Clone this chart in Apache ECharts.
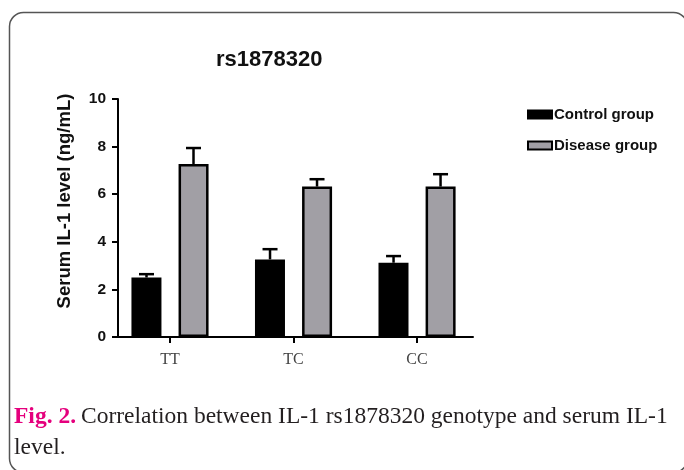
<!DOCTYPE html>
<html>
<head>
<meta charset="utf-8">
<script src="https://cdn.jsdelivr.net/npm/echarts@6/dist/echarts.min.js"></script>
<style>html,body{margin:0;padding:0;background:#fff;}#c{width:684px;height:470px;}</style>
</head>
<body>
<div id="c"></div>
<script>
var categories = ['TT', 'TC', 'CC'];
var controlMean = [2.50, 3.26, 3.12];
var controlErr = [0.14, 0.43, 0.28];
var diseaseMean = [7.27, 6.32, 6.32];
var diseaseErr = [0.67, 0.31, 0.52];
var yTicks = [0, 2, 4, 6, 8, 10];
var seriesNames = ['Control group', 'Disease group'];
var chartTitle = 'rs1878320';
var yAxisTitle = 'Serum IL-1 level (ng/mL)';
var captionHead = 'Fig. 2.';
var captionLine1 = 'Correlation between IL-1 rs1878320 genotype and serum IL-1';
var captionLine2 = 'level.';

var BAR_W = 30, HALF_SEP = 23.5, CAP_W = 15;

function pts(vals) { return vals.map(function (v, i) { return [i, v]; }); }
function errPts(m, e) { return m.map(function (v, i) { return [i, v, v + e[i]]; }); }

function errRender(dx) {
  return function (params, api) {
    var x = api.value(0);
    var base = api.coord([x, api.value(1)]);
    var top = api.coord([x, api.value(2)]);
    var cx = base[0] + dx;
    return {
      type: 'group',
      children: [
        { type: 'line', shape: { x1: cx, y1: base[1], x2: cx, y2: top[1] }, style: { stroke: '#000', lineWidth: 2.5 } },
        { type: 'line', shape: { x1: cx - CAP_W / 2, y1: top[1], x2: cx + CAP_W / 2, y2: top[1] }, style: { stroke: '#000', lineWidth: 2.5 } }
      ]
    };
  };
}

var chart = echarts.init(document.getElementById('c'), null, { renderer: 'canvas' });
chart.setOption({
  backgroundColor: '#fff',
  animation: false,
  graphic: [{
    type: 'rect', left: 7, top: 10, z: -10,
    shape: { width: 678, height: 460, r: 14 },
    style: { fill: 'none', stroke: '#555', lineWidth: 1.5 }
  }],
  title: [{
    text: chartTitle, left: 211, top: 44,
    textStyle: { fontFamily: 'Liberation Sans, Arial', fontWeight: 'bold', fontSize: 22, color: '#111' }
  }, {
    text: '{a|' + captionHead + '} {b|' + captionLine1 + '}\n{b|' + captionLine2 + '}',
    left: 9, top: 396,
    textStyle: {
      lineHeight: 31, fontWeight: 'normal',
      rich: {
        a: { fontFamily: 'Liberation Serif, Times New Roman', fontWeight: 'bold', fontSize: 23.5, color: '#e5007d', lineHeight: 31 },
        b: { fontFamily: 'Liberation Serif, Times New Roman', fontWeight: 'normal', fontSize: 23.5, color: '#231f20', lineHeight: 31 }
      }
    }
  }],
  legend: {
    orient: 'vertical', left: 522, top: 102, itemWidth: 24, itemHeight: 8, itemGap: 16,
    icon: 'rect',
    data: seriesNames,
    textStyle: { fontFamily: 'Liberation Sans, Arial', fontWeight: 'bold', fontSize: 15, color: '#111', padding: [0, 0, 0, -3] }
  },
  grid: { left: 118, right: 211, top: 99, bottom: 133 },
  xAxis: {
    type: 'value', min: -0.421, max: 2.453,
    splitLine: { show: false },
    axisLine: { show: true, onZero: false, lineStyle: { color: '#000', width: 2 } },
    axisTick: { show: true, customValues: [0, 1, 2], length: 6, lineStyle: { color: '#000', width: 2 } },
    axisLabel: {
      customValues: [0, 1, 2], margin: 15,
      formatter: function (v) { return categories[Math.round(v)]; },
      fontFamily: 'Liberation Serif, Times New Roman', fontSize: 16, color: '#444'
    }
  },
  yAxis: {
    type: 'value', min: 0, max: 10, interval: 2,
    name: yAxisTitle, nameLocation: 'middle', nameGap: 44,
    nameTextStyle: { fontFamily: 'Liberation Sans, Arial', fontWeight: 'bold', fontSize: 18.5, color: '#111', padding: [0, 0, 0, 34] },
    splitLine: { show: false },
    axisLine: { show: true, onZero: false, lineStyle: { color: '#000', width: 2 } },
    axisTick: { show: true, length: 6, lineStyle: { color: '#000', width: 2 } },
    axisLabel: { margin: 12, fontFamily: 'Liberation Sans, Arial', fontWeight: 'bold', fontSize: 15.5, color: '#111',
      formatter: function (v) { return yTicks.indexOf(v) >= 0 ? String(v) : ''; } }
  },
  series: [{
    name: seriesNames[0], type: 'bar', data: pts(controlMean), barWidth: BAR_W, barGap: '57%',
    itemStyle: { color: '#000', borderColor: '#000', borderWidth: 2 }
  }, {
    name: seriesNames[1], type: 'bar', data: pts(diseaseMean), barWidth: BAR_W, barGap: '57%',
    itemStyle: { color: '#a19fa5', borderColor: '#000', borderWidth: 2.5 }
  }, {
    type: 'custom', data: errPts(controlMean, controlErr), renderItem: errRender(-HALF_SEP), z: 5,
    encode: { x: 0, y: [1, 2] }
  }, {
    type: 'custom', data: errPts(diseaseMean, diseaseErr), renderItem: errRender(HALF_SEP), z: 5,
    encode: { x: 0, y: [1, 2] }
  }]
});
</script>
</body>
</html>
